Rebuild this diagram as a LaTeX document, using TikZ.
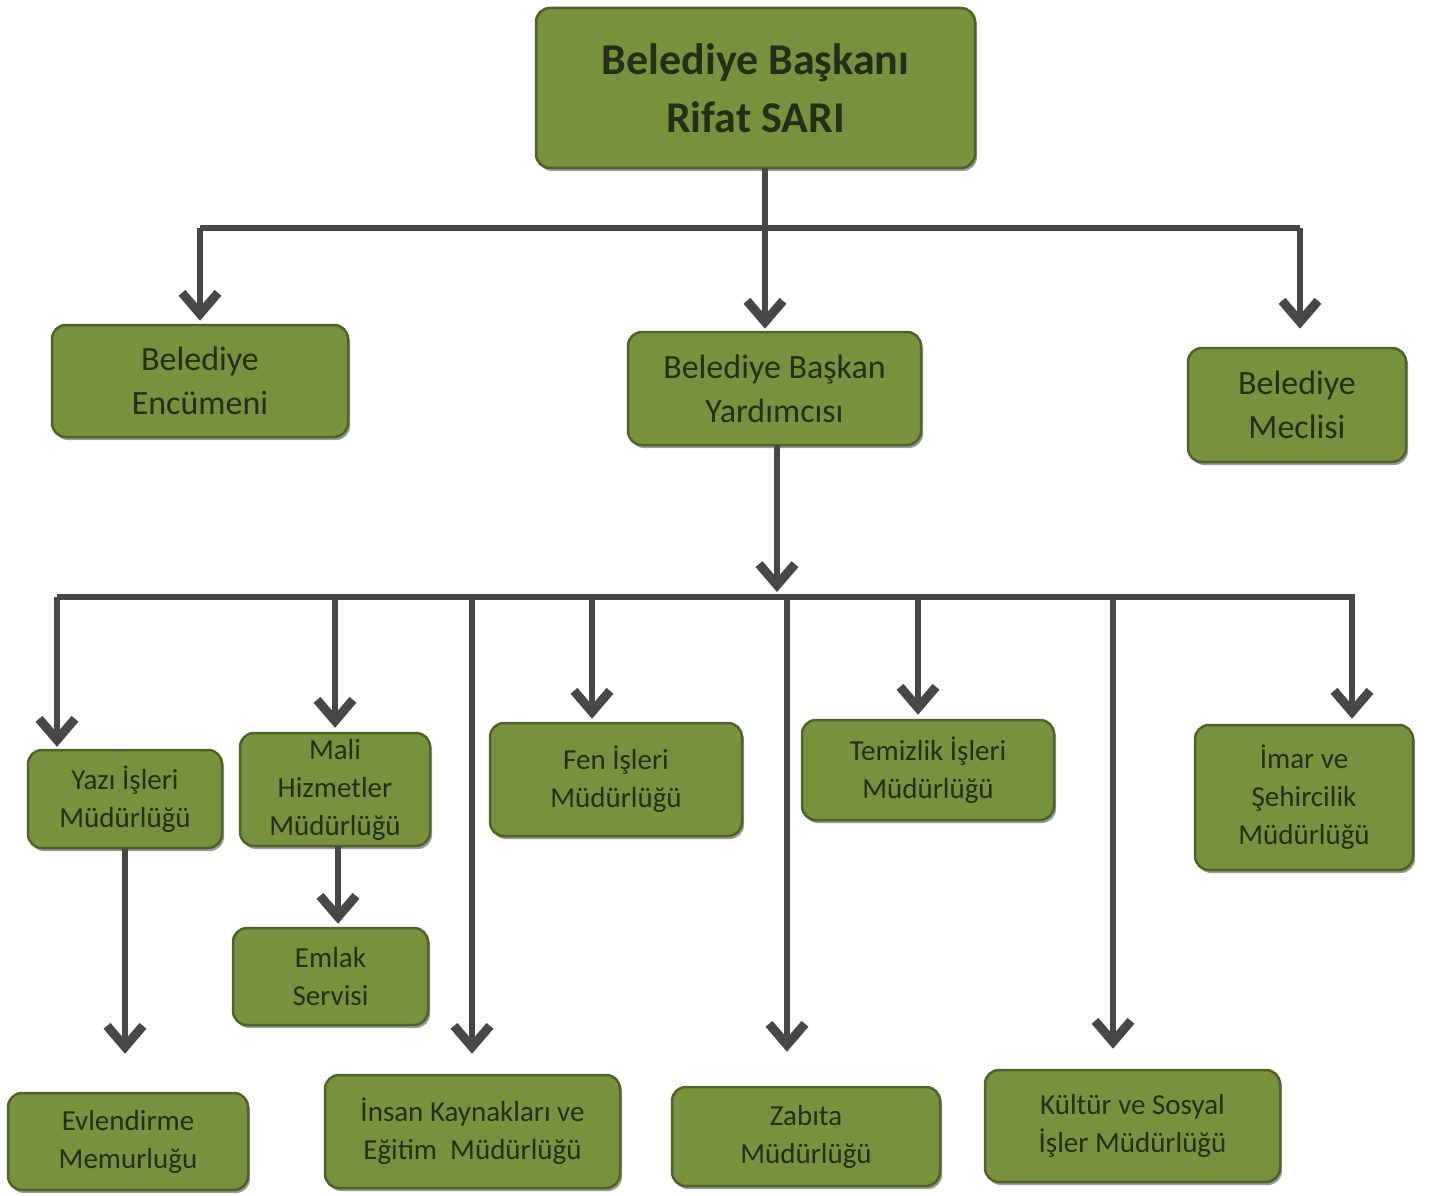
\documentclass[tikz,border=0pt]{standalone}
\usepackage{fontspec}
\setmainfont{Carlito}
\usetikzlibrary{arrows.meta,shadows}
\definecolor{boxgreen}{HTML}{76923C}
\definecolor{boxedge}{HTML}{4F6228}
\definecolor{txtc}{HTML}{252E17}
\definecolor{linec}{HTML}{474747}
\begin{document}
\begin{tikzpicture}[x=1pt,y=-1pt,
  box/.style={draw=boxedge, line width=2.5pt, fill=boxgreen, rounded corners=14pt,
    text=txtc, align=center, inner sep=0pt,
    drop shadow={shadow xshift=2pt,shadow yshift=-3pt,opacity=0.4,fill=black}},
  conn/.style={draw=linec, line width=5.5pt},
  arr/.style={conn, -{Straight Barb[length=21pt,width=36pt,line width=9pt]}},
  big/.style={font=\fontsize{44}{58}\selectfont\bfseries},
  mid/.style={font=\fontsize{34}{44}\selectfont},
  small/.style={font=\fontsize{29}{38}\selectfont},
]
\fill[white] (0,0) rectangle (1430,1196);
\useasboundingbox (0,0) rectangle (1430,1196);

% boxes
\node[box,big,minimum width=439pt,minimum height=160pt] (top) at (755.5,88) {Belediye Başkanı\\Rifat SARI};
\node[box,mid,minimum width=296pt,minimum height=112pt] (enc) at (200,381) {Belediye\\Encümeni};
\node[box,mid,minimum width=293pt,minimum height=113pt] (yard) at (774.5,388.5) {Belediye Başkan\\Yardımcısı};
\node[box,mid,minimum width=218pt,minimum height=114pt] (mec) at (1297,405) {Belediye\\Meclisi};

\node[box,small,minimum width=194pt,minimum height=98pt] (yazi) at (125,799) {Yazı İşleri\\Müdürlüğü};
\node[box,small,minimum width=190pt,minimum height=113pt] (mali) at (335,789.5) {Mali\\Hizmetler\\Müdürlüğü};
\node[box,small,minimum width=252pt,minimum height=113pt] (fen) at (616,779.5) {Fen İşleri\\Müdürlüğü};
\node[box,small,minimum width=252pt,minimum height=100pt] (tem) at (928,770) {Temizlik İşleri\\Müdürlüğü};
\node[box,small,minimum width=218pt,minimum height=145pt] (imar) at (1304,797.5) {İmar ve\\Şehircilik\\Müdürlüğü};
\node[box,small,minimum width=195pt,minimum height=97pt] (emlak) at (330.5,976.5) {Emlak\\Servisi};
\node[box,small,minimum width=240pt,minimum height=97pt] (evl) at (128,1141.5) {Evlendirme\\Memurluğu};
\node[box,small,minimum width=295pt,minimum height=113pt] (ins) at (472.5,1131.5) {İnsan Kaynakları ve\\Eğitim~ Müdürlüğü};
\node[box,small,minimum width=268pt,minimum height=99pt] (zab) at (806,1136.5) {Zabıta\\Müdürlüğü};
\node[box,small,minimum width=295pt,minimum height=112pt] (kul) at (1132.5,1126) {Kültür ve Sosyal\\İşler Müdürlüğü};

% junction coordinates
\coordinate (t1) at (765,168);
\coordinate (b1L) at (200,228);
\coordinate (b1R) at (1300,228);
\coordinate (t2) at (777,445);
\coordinate (b2c) at (777,592);
\coordinate (b2L) at (57,597);
\coordinate (b2R) at (1355,597);
\coordinate (d1) at (57,597);
\coordinate (d2) at (335,597);
\coordinate (d3) at (472,597);
\coordinate (d4) at (592,597);
\coordinate (d5) at (787,597);
\coordinate (d6) at (918,597);
\coordinate (d7) at (1113,597);
\coordinate (d8) at (1352,597);
\coordinate (y1) at (125,848);
\coordinate (m1) at (338,846);

% connectors, level 1
\draw[conn] (b1L) -- (b1R);
\draw[arr,shorten >=2pt] (t1) -- (t1 |- yard.north);
\draw[arr,shorten >=3pt] (b1L) -- (b1L |- enc.north);
\draw[arr,shorten >=18pt] (b1R) -- (b1R |- mec.north);

% level 2
\draw[conn] (b2L) -- (b2R);
\draw[arr] (t2) -- (b2c);
\draw[arr,shorten >=2pt] (d1) -- (d1 |- yazi.north);
\draw[arr,shorten >=4pt] (d2) -- (d2 |- mali.north);
\draw[arr,shorten >=20pt] (d3) -- (d3 |- ins.north);
\draw[arr,shorten >=3pt] (d4) -- (d4 |- fen.north);
\draw[arr,shorten >=34pt] (d5) -- (d5 |- zab.north);
\draw[arr,shorten >=4pt] (d6) -- (d6 |- tem.north);
\draw[arr,shorten >=20pt] (d7) -- (d7 |- kul.north);
\draw[arr,shorten >=5pt] (d8) -- (d8 |- imar.north);

% level 3
\draw[arr,shorten >=38pt] (y1) -- (y1 |- evl.north);
\draw[arr,shorten >=3pt] (m1) -- (m1 |- emlak.north);
\end{tikzpicture}
\end{document}
